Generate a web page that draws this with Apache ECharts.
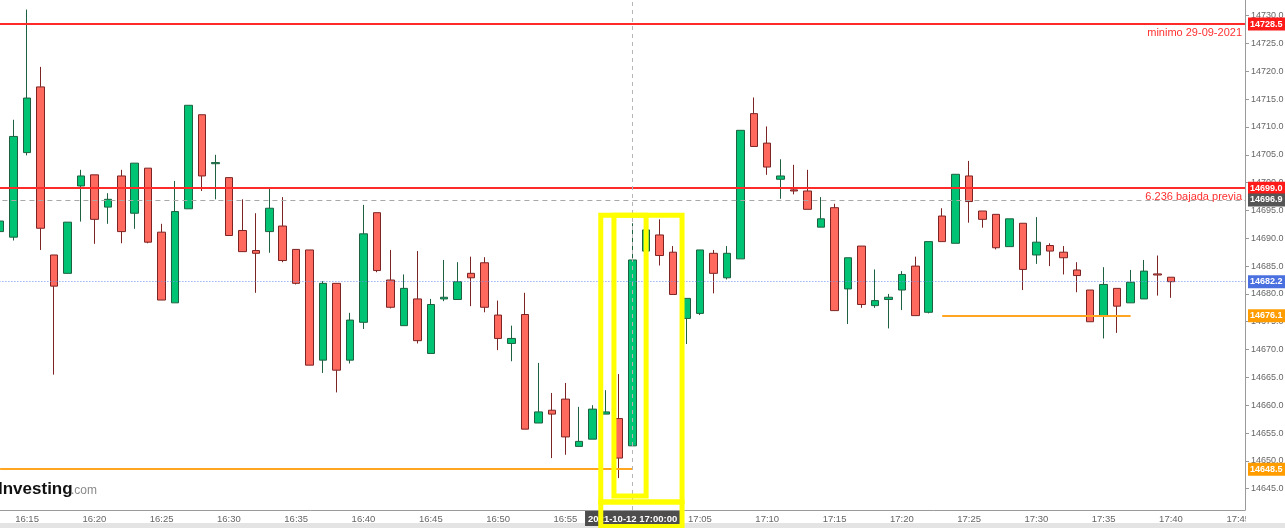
<!DOCTYPE html>
<html><head><meta charset="utf-8">
<script src="https://cdn.jsdelivr.net/npm/echarts@6/dist/echarts.min.js"></script>
<style>html,body{margin:0;padding:0;background:#fff;}#c{width:1285px;height:528px;}</style>
</head><body><div id="c"></div>
<script>
// ---------- data ----------
const times = ['16:13','16:14','16:15','16:16','16:17','16:18','16:19','16:20','16:21','16:22','16:23','16:24','16:25','16:26','16:27','16:28','16:29',
'16:30','16:31','16:32','16:33','16:34','16:35','16:36','16:37','16:38','16:39','16:40','16:41','16:42','16:43','16:44','16:45','16:46','16:47','16:48','16:49',
'16:50','16:51','16:52','16:53','16:54','16:55','16:56','16:57','16:58','16:59','17:00','17:01','17:02','17:03','17:04','17:05','17:06','17:07','17:08','17:09',
'17:10','17:11','17:12','17:13','17:14','17:15','17:16','17:17','17:18','17:19','17:20','17:21','17:22','17:23','17:24','17:25','17:26','17:27','17:28','17:29',
'17:30','17:31','17:32','17:33','17:34','17:35','17:36','17:37','17:38','17:39','17:40','17:41','17:42','17:43','17:44','17:45'];

const opens  = [14691.2,14690.2,14705.4,14717.2,14687.0,14683.7,14699.4,14701.4,14695.6,14701.2,14694.5,14702.6,14691.1,14678.4,14695.3,14712.2,14703.4,
14700.9,14691.4,14687.8,14691.2,14692.2,14688.0,14687.9,14668.1,14681.9,14668.1,14674.9,14694.6,14682.5,14674.3,14679.1,14669.3,14679.1,14679.0,14683.7,14685.6,
14676.2,14671.1,14676.3,14656.8,14659.1,14661.1,14652.6,14653.9,14658.4,14657.6,14652.7,14687.7,14690.6,14687.5,14675.6,14676.5,14687.3,14682.9,14686.3,14712.4,
14707.1,14700.6,14698.7,14698.5,14692.0,14695.5,14680.9,14688.6,14677.9,14679.0,14680.7,14685.0,14676.7,14694.0,14689.1,14701.2,14694.9,14694.3,14688.5,14692.7,
14687.0,14688.7,14687.5,14684.3,14680.7,14676.1,14681.0,14678.4,14679.1,14683.6,14683.0];
const closes = [14693.1,14708.3,14715.2,14691.8,14681.4,14692.9,14701.2,14693.4,14697.0,14691.2,14703.5,14689.3,14678.9,14694.8,14713.9,14701.2,14703.6,
14690.5,14687.6,14687.3,14695.4,14686.0,14681.9,14667.2,14681.9,14666.3,14675.3,14690.8,14684.2,14677.6,14681.0,14671.6,14678.1,14679.4,14682.2,14682.9,14677.6,
14672.0,14672.0,14655.7,14658.8,14658.4,14654.3,14653.5,14659.3,14658.8,14650.5,14686.1,14691.5,14686.9,14679.9,14679.2,14687.9,14683.7,14687.3,14709.4,14706.5,
14702.8,14701.2,14698.5,14695.2,14693.5,14677.0,14686.5,14678.1,14678.8,14679.4,14683.5,14676.1,14689.4,14689.4,14701.5,14696.6,14693.4,14688.3,14693.5,14684.4,
14689.3,14687.7,14686.5,14683.3,14675.0,14681.7,14677.8,14682.1,14684.1,14683.4,14682.2];
const lows   = [14686.8,14689.6,14704.9,14687.9,14665.5,14683.7,14693.0,14689.0,14692.6,14689.1,14691.7,14689.1,14678.9,14678.4,14695.3,14698.5,14697.0,
14690.5,14687.6,14680.2,14687.4,14685.7,14681.7,14667.2,14665.8,14662.3,14667.5,14673.7,14683.9,14677.4,14674.3,14671.1,14669.3,14678.7,14679.0,14677.8,14676.7,
14669.9,14667.9,14655.7,14656.8,14650.5,14651.1,14652.6,14653.9,14658.4,14646.9,14652.7,14687.7,14685.1,14679.9,14671.0,14676.2,14680.1,14682.6,14686.3,14706.5,
14701.4,14697.1,14697.9,14695.2,14692.0,14677.0,14674.6,14677.5,14677.5,14673.8,14677.1,14676.1,14676.5,14689.4,14689.1,14692.8,14691.9,14688.0,14688.5,14680.7,
14685.4,14685.0,14683.5,14680.3,14675.0,14672.0,14673.0,14678.4,14679.1,14679.7,14679.3];
const highs  = [14693.3,14711.3,14731.1,14720.8,14687.0,14692.9,14702.3,14701.4,14698.1,14702.3,14703.5,14702.6,14692.6,14700.3,14713.9,14712.2,14705.0,
14700.9,14697.0,14694.5,14699.2,14697.4,14688.0,14687.9,14682.3,14681.9,14676.6,14696.0,14694.6,14687.9,14683.5,14687.7,14679.1,14686.1,14685.7,14686.7,14686.6,
14678.8,14674.3,14680.2,14667.6,14662.2,14664.0,14659.7,14660.0,14662.7,14665.6,14692.7,14691.5,14693.4,14688.6,14679.2,14687.9,14687.9,14688.6,14709.4,14715.3,
14710.1,14704.2,14703.2,14702.3,14697.4,14696.2,14686.5,14688.6,14684.4,14680.0,14684.1,14686.7,14689.4,14695.4,14701.5,14703.9,14694.9,14694.3,14693.5,14692.7,
14693.8,14689.1,14688.6,14685.7,14680.7,14684.8,14681.0,14684.3,14686.1,14686.9,14683.0];

const yTicks = [14645,14650,14655,14660,14665,14670,14675,14680,14685,14690,14695,14700,14705,14710,14715,14720,14725,14730];

// horizontal reference levels (full width)
const levelValues = [14728.5, 14699.0, 14696.9, 14682.2];
const levelTexts  = ['minimo 29-09-2021', '6.236 bajada previa', '', ''];
// support segments
const segValues = [14648.5, 14676.1];
const segFrom   = ['16:13', '17:23'];
const segTo     = ['17:00', '17:37'];
// crosshair
const crossTime  = '17:00';
const crossLabel = '2021-10-12 17:00:00';
// highlight boxes (category index range, value range)
const boxIdx0 = [44.63, 45.61, 44.63];
const boxIdx1 = [50.67, 48.00, 50.67];
const boxTop  = [14694.15, 14694.15, 14642.6];
const boxBot  = [14642.6, 14643.7, 14638.2];

// ---------- build ----------
const FONT = '"Liberation Sans", Arial, sans-serif';
const candles = opens.map((o, i) => [o, closes[i], lows[i], highs[i]]);
const isFive = (idx, val) => parseInt(String(val).split(':')[1], 10) % 5 === 0;

const levelStyles = [
  {line: {color: '#ff2b2b', width: 2, type: 'solid'}, tag: '#ff1a1a'},
  {line: {color: '#ff2b2b', width: 2, type: 'solid'}, tag: '#ff1a1a'},
  {line: {color: '#a8a8a8', width: 1, type: [5, 4]}, tag: '#555555'},
  {line: {color: '#6d8ff0', width: 1, type: [1, 2]}, tag: '#4a70e0'}
];
const tagLabel = (bg) => ({
  show: true, position: 'end', distance: 3,
  formatter: p => Number(p.value).toFixed(1),
  color: '#fff', backgroundColor: bg, fontSize: 9, fontWeight: 'bold', fontFamily: FONT,
  padding: [2, 3, 1, 2], lineHeight: 10
});

const mlData = [];
levelValues.forEach((v, k) => {
  mlData.push({
    yAxis: v, lineStyle: levelStyles[k].line,
    label: levelTexts[k] ? {show: true, position: 'insideEndBottom', formatter: levelTexts[k],
      color: '#ff3030', fontSize: 11, fontFamily: FONT, distance: 3} : {show: false}
  });
  mlData.push({yAxis: v, lineStyle: {color: 'rgba(0,0,0,0)', width: 0}, label: tagLabel(levelStyles[k].tag)});
});
segValues.forEach((v, k) => {
  mlData.push([
    {coord: [segFrom[k], v], lineStyle: {color: '#ffa51f', width: 2, type: 'solid'}, label: {show: false}},
    {coord: [segTo[k], v]}
  ]);
  mlData.push({yAxis: v, lineStyle: {color: 'rgba(0,0,0,0)', width: 0}, label: tagLabel('#ff9d00')});
});
mlData.push({
  xAxis: crossTime, lineStyle: {color: '#b5b5b5', width: 1, type: [4, 4]},
  label: {show: true, position: 'start', formatter: crossLabel, color: '#fff', backgroundColor: '#4d4d4d',
    fontSize: 9.5, fontWeight: 'bold', fontFamily: FONT, padding: [3, 3, 2, 3], distance: 1}
});

const option = {
  animation: false,
  backgroundColor: '#ffffff',
  grid: {left: -6.6, right: 40, top: 0, bottom: 18, containLabel: false, outerBoundsMode: 'none'},
  xAxis: {
    type: 'category', data: times, boundaryGap: true,
    axisLine: {lineStyle: {color: '#9a9a9a'}},
    axisTick: {interval: isFive, alignWithLabel: true, length: 4, lineStyle: {color: '#9a9a9a'}},
    axisLabel: {interval: isFive, color: '#666', fontSize: 9.5, margin: 4, fontFamily: FONT},
    splitLine: {show: false}
  },
  yAxis: {
    type: 'value', position: 'right', scale: true, min: 14641.17, max: 14732.82,
    axisLine: {show: true, lineStyle: {color: '#9a9a9a'}},
    axisTick: {show: true, length: 4, customValues: yTicks, lineStyle: {color: '#9a9a9a'}},
    axisLabel: {customValues: yTicks, formatter: v => Number(v).toFixed(1), color: '#666', fontSize: 9, margin: 6, fontFamily: FONT},
    splitLine: {show: false}
  },
  series: [{
    type: 'candlestick', data: candles, barWidth: 8,
    itemStyle: {color: '#00c473', color0: '#ff695e', borderColor: '#1d6140', borderColor0: '#7c2424', borderWidth: 1},
    markLine: {symbol: ['none', 'none'], silent: true, animation: false, data: mlData}
  }]
};

const chart = echarts.init(document.getElementById('c'), null, {renderer: 'canvas'});
chart.setOption(option);

const toPx = (i, v) => {
  const a = chart.convertToPixel({gridIndex: 0}, [0, v]);
  const b = chart.convertToPixel({gridIndex: 0}, [1, v]);
  return [a[0] + i * (b[0] - a[0]), a[1]];
};
const graphics = [
  {type: 'rect', z: 0, shape: {x: 0, y: 523, width: 1285, height: 5}, style: {fill: '#e4e4e4'}},
  {type: 'rect', z: 100, shape: {x: 1246, y: 511, width: 39, height: 12}, style: {fill: '#ffffff'}},
  {type: 'text', z: 50, x: -2, y: 489, style: {text: 'Investing', fill: '#111', font: 'bold 17px ' + FONT, verticalAlign: 'middle'}},
  {type: 'text', z: 50, x: 71, y: 491, style: {text: '.com', fill: '#8a8a8a', font: '12px ' + FONT, verticalAlign: 'middle'}}
];
boxIdx0.forEach((i0, k) => {
  const p0 = toPx(i0, boxTop[k]);
  const p1 = toPx(boxIdx1[k], boxBot[k]);
  graphics.push({type: 'rect', z: 100,
    shape: {x: p0[0], y: p0[1], width: p1[0] - p0[0], height: p1[1] - p0[1]},
    style: {fill: 'none', stroke: '#ffff00', lineWidth: 5}});
});
chart.setOption({graphic: graphics});
</script>
</body></html>
